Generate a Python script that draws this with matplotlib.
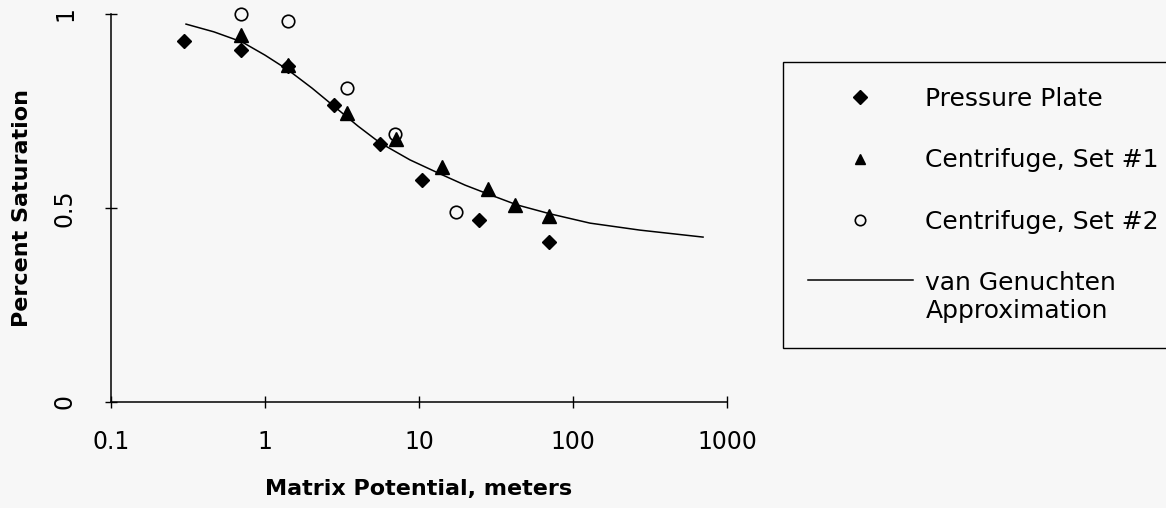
import matplotlib
matplotlib.use("Agg")
import matplotlib.pyplot as plt
from matplotlib.offsetbox import HPacker, TextArea

# Pressure plate measurements
plate_x = [0.3, 0.7, 1.4, 2.8, 5.6, 10.4, 24.5, 70]
plate_y = [0.93, 0.907, 0.866, 0.765, 0.665, 0.572, 0.469, 0.412]

# Centrifuge, set #1
cent1_x = [0.7, 1.4, 3.4, 7.1, 14.1, 28.1, 42, 70]
cent1_y = [0.946, 0.869, 0.745, 0.678, 0.606, 0.549, 0.508, 0.479]

# Centrifuge, set #2
cent2_x = [0.7, 1.4, 3.4, 7.0, 17.4]
cent2_y = [1.0, 0.982, 0.809, 0.691, 0.490]

# van Genuchten curve
vg_x = [0.307, 0.466, 0.709, 1.0, 1.41, 2.02, 2.85, 4.02, 5.58, 8.74,
        13.7, 19.9, 28.1, 43.3, 70.9, 129, 272, 699]
vg_y = [0.974, 0.954, 0.928, 0.894, 0.856, 0.809, 0.760, 0.711, 0.668,
        0.624, 0.588, 0.559, 0.536, 0.508, 0.485, 0.461, 0.443, 0.425]

x_ticks = [0.1, 1, 10, 100, 1000]
x_ticklabels = ["0.1", "1", "10", "100", "1000"]
y_ticks = [0, 0.5, 1]
y_ticklabels = ["0", "0.5", "1"]

plt.rcParams['font.family'] = ['DejaVu Sans']
bg = '#f7f7f7'

fig = plt.figure(figsize=(11.66, 5.08), dpi=100, facecolor=bg)
ax = fig.add_axes([0.0952, 0.2087, 0.5283, 0.7637], facecolor=bg)

ax.plot(vg_x, vg_y, color='black', lw=1.1, label='van Genuchten\nApproximation')
ax.plot(plate_x, plate_y, linestyle='none', marker='D', ms=7, color='black',
        label='Pressure Plate', clip_on=False)
ax.plot(cent1_x, cent1_y, linestyle='none', marker='^', ms=9.5, color='black',
        label='Centrifuge, Set #1', clip_on=False)
ax.plot(cent2_x, cent2_y, linestyle='none', marker='o', ms=9, mfc='none',
        mec='black', mew=1.2, label='Centrifuge, Set #2', clip_on=False)

ax.set_xscale('log')
ax.set_xlim(0.1, 1000)
ax.set_ylim(0, 1)
ax.set_xticks(x_ticks)
ax.set_xticklabels(x_ticklabels)
ax.set_yticks(y_ticks)
ax.set_yticklabels(y_ticklabels, rotation=90, va='center')
ax.minorticks_off()

for side in ['top', 'right']:
    ax.spines[side].set_visible(False)
for side in ['left', 'bottom']:
    ax.spines[side].set_linewidth(1.1)

ax.tick_params(axis='both', direction='inout', length=9, width=1.0,
               labelsize=17, colors='black')
ax.tick_params(axis='x', pad=16)
ax.tick_params(axis='y', pad=20)

ax.set_xlabel('Matrix Potential, meters', fontsize=16, fontweight='bold',
              labelpad=18)
ax.set_ylabel('Percent Saturation', fontsize=16, fontweight='bold',
              labelpad=15)

handles, labels = ax.get_legend_handles_labels()
order = [1, 2, 3, 0]
# box runs off the right edge of the figure
leg = ax.legend([handles[i] for i in order], [labels[i] for i in order],
                loc='upper left', bbox_to_anchor=(0.6715, 0.0, 0.335, 0.878),
                bbox_transform=fig.transFigure, mode='expand', borderaxespad=0,
                fontsize=18, frameon=True, fancybox=False, edgecolor='black',
                facecolor=bg, framealpha=1, borderpad=1.0, labelspacing=1.5,
                handlelength=4.2, handletextpad=0.5, markerscale=1.0)
leg.get_frame().set_linewidth(1.0)
leg.legend_handles[1].set_markersize(7.5)
leg.legend_handles[2].set_markersize(7.5)

# keep the line handle level with the first line of its two-line label
for box in leg.findobj(match=HPacker):
    kids = box.get_children()
    if len(kids) == 2 and isinstance(kids[1], TextArea) and '\n' in kids[1].get_text():
        box.align = 'top'

fig.savefig('out.png', dpi=100, facecolor=bg)
